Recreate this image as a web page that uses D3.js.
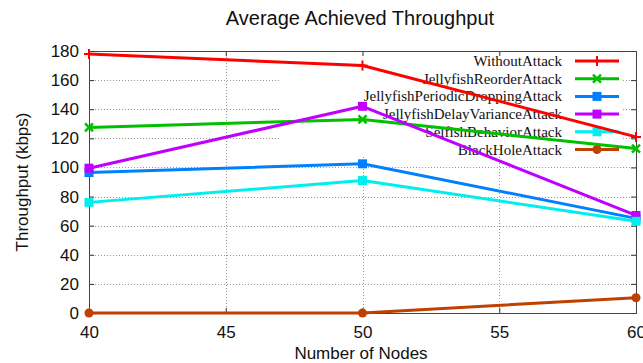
<!DOCTYPE html>
<html>
<head>
<meta charset="utf-8">
<script src="https://cdn.jsdelivr.net/npm/d3@7"></script>
<style>
  html, body { margin: 0; padding: 0; background: #fff; }
  svg { display: block; }
</style>
</head>
<body>
<svg id="chart" width="643" height="363"></svg>
<script>
const nodes = [40, 50, 60];
const seriesNames = ["WithoutAttack", "JellyfishReorderAttack", "JellyfishPeriodicDroppingAttack",
  "JellyfishDelayVarianceAttack", "SelfishBehaviorAttack", "BlackHoleAttack"];
const withoutAttack = [178, 170, 121];
const reorderAttack = [127.5, 133, 113];
const periodicDroppingAttack = [96.5, 102.5, 65];
const delayVarianceAttack = [99.5, 142, 67];
const selfishBehaviorAttack = [76, 91, 63];
const blackHoleAttack = [0, 0, 10.5];
const xTicks = [40, 45, 50, 55, 60];
const yTicks = [0, 20, 40, 60, 80, 100, 120, 140, 160, 180];

const seriesValues = [withoutAttack, reorderAttack, periodicDroppingAttack,
  delayVarianceAttack, selfishBehaviorAttack, blackHoleAttack];
const colors = ["#ff0000", "#00c000", "#0080ff", "#c000ff", "#00eeee", "#c04000"];
const markers = ["plus", "cross", "square", "square", "square", "circle"];

const svg = d3.select("#chart");
const L = 89, R = 636, T = 51, B = 313;
const x = d3.scaleLinear().domain([40, 60]).range([L, R]);
const y = d3.scaleLinear().domain([0, 180]).range([B, T]);

// grid
const key = {x0: 279, x1: 623, y1: 157};
const grid = svg.append("g").attr("stroke", "#999").attr("stroke-width", 1)
  .attr("stroke-dasharray", "1,2");
yTicks.filter(v => v > 0 && v < 180).forEach(v => {
  const yy = Math.round(y(v)) + 0.5;
  if (yy < key.y1) {
    grid.append("line").attr("x1", L).attr("x2", key.x0).attr("y1", yy).attr("y2", yy);
    grid.append("line").attr("x1", key.x1).attr("x2", R).attr("y1", yy).attr("y2", yy);
  } else {
    grid.append("line").attr("x1", L).attr("x2", R).attr("y1", yy).attr("y2", yy);
  }
});
xTicks.filter(v => v > 40 && v < 60).forEach(v => {
  const xx = Math.round(x(v)) + 0.5;
  const top = (xx > key.x0 && xx < key.x1) ? key.y1 : T;
  grid.append("line").attr("x1", xx).attr("x2", xx).attr("y1", top).attr("y2", B);
});

// axes with inward ticks
const axL = svg.append("g").attr("transform", `translate(${L},0)`)
  .call(d3.axisLeft(y).tickValues(yTicks).tickSizeInner(-5).tickSizeOuter(0).tickPadding(12));
const axB = svg.append("g").attr("transform", `translate(0,${B})`)
  .call(d3.axisBottom(x).tickValues(xTicks).tickSizeInner(-5).tickSizeOuter(0).tickPadding(12));
const axT = svg.append("g").attr("transform", `translate(0,${T})`)
  .call(d3.axisTop(x).tickValues(xTicks).tickSizeInner(-5).tickSizeOuter(0).tickFormat(""));
const axR = svg.append("g").attr("transform", `translate(${R},0)`)
  .call(d3.axisRight(y).tickValues(yTicks).tickSizeInner(-5).tickSizeOuter(0).tickFormat(""));
[axL, axB, axT, axR].forEach(a => {
  a.select(".domain").remove();
  a.selectAll("line").attr("stroke", "#333");
  a.selectAll("text").attr("fill", "#111").style("font-family", "'Liberation Sans', Arial, sans-serif")
    .style("font-size", "17px");
});
axL.selectAll("text").attr("dx", "2");
axB.selectAll("text").attr("dy", "0.75em");

svg.append("rect").attr("x", L + 0.5).attr("y", T + 0.5).attr("width", R - L).attr("height", B - T)
  .attr("fill", "none").attr("stroke", "#444").attr("stroke-width", 1);

function drawMarker(g, type, cx, cy, color) {
  if (type === "plus") {
    g.append("path").attr("d", `M${cx-5},${cy}H${cx+5}M${cx},${cy-5}V${cy+5}`)
      .attr("stroke", color).attr("stroke-width", 2);
  } else if (type === "cross") {
    g.append("path").attr("d", `M${cx-4},${cy-4}L${cx+4},${cy+4}M${cx-4},${cy+4}L${cx+4},${cy-4}`)
      .attr("stroke", color).attr("stroke-width", 2.5);
  } else if (type === "square") {
    g.append("rect").attr("x", cx - 4.5).attr("y", cy - 4.5).attr("width", 9).attr("height", 9)
      .attr("fill", color);
  } else if (type === "circle") {
    g.append("circle").attr("cx", cx).attr("cy", cy).attr("r", 4.5).attr("fill", color);
  }
}

// legend
const legend = svg.append("g");
seriesNames.forEach((name, i) => {
  const cy = 61 + i * 17.7;
  legend.append("text").attr("x", 562).attr("y", cy + 5).attr("text-anchor", "end")
    .style("font-family", "'Liberation Serif', 'Times New Roman', serif").style("font-size", "15px")
    .attr("fill", "#111").text(name);
  legend.append("line").attr("x1", 575).attr("x2", 619).attr("y1", cy).attr("y2", cy)
    .attr("stroke", colors[i]).attr("stroke-width", 3);
  drawMarker(legend, markers[i], 597, cy, colors[i]);
});

// series
const line = d3.line().x((d, i) => x(nodes[i])).y(d => y(d));
seriesValues.forEach((vals, i) => {
  const g = svg.append("g");
  g.append("path").datum(vals).attr("d", line).attr("fill", "none")
    .attr("stroke", colors[i]).attr("stroke-width", 3).attr("stroke-linejoin", "round");
  vals.forEach((v, j) => drawMarker(g, markers[i], x(nodes[j]), y(v), colors[i]));
});

// titles
const sans = "'Liberation Sans', Arial, sans-serif";
svg.append("text").attr("x", 360).attr("y", 25).attr("text-anchor", "middle")
  .style("font-family", sans).style("font-size", "20px").attr("fill", "#111")
  .text("Average Achieved Throughput");
svg.append("text").attr("x", 361).attr("y", 359).attr("text-anchor", "middle")
  .style("font-family", sans).style("font-size", "17px").attr("fill", "#111")
  .text("Number of Nodes");
svg.append("text").attr("transform", "translate(28,182) rotate(-90)").attr("text-anchor", "middle")
  .style("font-family", sans).style("font-size", "17px").attr("fill", "#111")
  .text("Throughput (kbps)");
</script>
</body>
</html>
